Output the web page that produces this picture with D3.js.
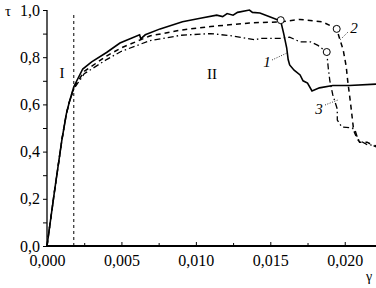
<!DOCTYPE html>
<html lang="en">
<head>
    <meta charset="UTF-8">
    <title>Shear stress vs strain</title>
    <style>
        body {
            margin: 0;
            background: #fff;
        }
        svg text {
            font-family: 'Liberation Serif', 'DejaVu Serif', serif;
            fill: #000;
        }
    </style>
</head>
<body>
    <div id="chart"></div>
    <script src="https://d3js.org/d3.v7.min.js"></script>
    <script>
        const width = 376;
        const height = 288;

        // curve 1 (solid), 2 (dashed), 3 (dash-dot): [gamma, tau]
        const curve1 = [
            [0, 0], [0.0005, 0.23], [0.001, 0.45], [0.0013, 0.56], [0.0015, 0.61],
            [0.0018, 0.675], [0.0024, 0.75], [0.003, 0.78], [0.004, 0.82], [0.0049, 0.86],
            [0.00622, 0.895], [0.0063, 0.878], [0.0066, 0.895], [0.0076, 0.92], [0.0091, 0.95],
            [0.0103, 0.965], [0.0114, 0.978], [0.0118, 0.972], [0.0121, 0.985], [0.0125, 0.978],
            [0.0128, 0.99], [0.0136, 1.0], [0.0138, 0.99], [0.0143, 0.987], [0.015, 0.97],
            [0.0157, 0.953], [0.0159, 0.9], [0.0161, 0.84], [0.0162, 0.79], [0.0163, 0.767],
            [0.0166, 0.745], [0.017, 0.725], [0.0172, 0.7], [0.0175, 0.69], [0.0178, 0.657],
            [0.0183, 0.67], [0.0192, 0.68], [0.0203, 0.68], [0.0221, 0.686]
        ];
        const curve2 = [
            [0, 0], [0.0005, 0.23], [0.001, 0.45], [0.0013, 0.56], [0.0015, 0.61],
            [0.0018, 0.67], [0.0025, 0.74], [0.004, 0.805], [0.005, 0.84], [0.0069, 0.89],
            [0.009, 0.915], [0.011, 0.93], [0.0136, 0.945], [0.0157, 0.95], [0.017, 0.96],
            [0.0185, 0.95], [0.01946, 0.92], [0.0197, 0.87], [0.0199, 0.83], [0.0201, 0.76],
            [0.0202, 0.7], [0.0204, 0.6], [0.0206, 0.49], [0.0208, 0.46], [0.021, 0.44],
            [0.0215, 0.44], [0.0221, 0.42]
        ];
        const curve3 = [
            [0, 0], [0.0005, 0.23], [0.001, 0.45], [0.0013, 0.56], [0.0015, 0.61],
            [0.0018, 0.665], [0.0025, 0.73], [0.004, 0.79], [0.005, 0.825], [0.0069, 0.87],
            [0.009, 0.893], [0.011, 0.9], [0.0125, 0.89], [0.014, 0.873], [0.0143, 0.88],
            [0.0157, 0.88], [0.0163, 0.885], [0.017, 0.865], [0.0177, 0.865], [0.0182, 0.85],
            [0.01879, 0.822], [0.0189, 0.75], [0.019, 0.7], [0.0192, 0.64], [0.0195, 0.58],
            [0.0195, 0.534], [0.0198, 0.504], [0.0205, 0.5], [0.0207, 0.49], [0.0209, 0.45],
            [0.0215, 0.43], [0.0221, 0.425]
        ];
        // failure points (open circles)
        const failPoints = [[0.0157, 0.957], [0.01946, 0.92], [0.01879, 0.822]];

        const xTicks = [0, 0.005, 0.010, 0.015, 0.020];
        const xMinorTicks = [0.0025, 0.0075, 0.0125, 0.0175];
        const yTicks = [0, 0.2, 0.4, 0.6, 0.8, 1.0];
        const yMinorTicks = [0.1, 0.3, 0.5, 0.7, 0.9];
        const boundaryGamma = 0.0018;

        const svg = d3.select("#chart")
            .append("svg")
            .attr("width", width)
            .attr("height", height);

        const x = d3.scaleLinear().domain([0, 0.0221]).range([47, 376]);
        const y = d3.scaleLinear().domain([0, 1.0]).range([246, 10]);

        const comma = d => d3.format(".3f")(d).replace(".", ",");
        const commaY = d => d3.format(".1f")(d).replace(".", ",");

        // axes
        const xAxis = svg.append("g")
            .attr("transform", `translate(0,${y(0)})`)
            .call(d3.axisBottom(x).tickValues(xTicks).tickSize(-4).tickPadding(9).tickFormat(comma));
        xAxis.append("g")
            .call(d3.axisBottom(x).tickValues(xMinorTicks).tickSize(-3).tickFormat(""));
        xAxis.selectAll(".domain").attr("stroke-width", 2);

        const yAxis = svg.append("g")
            .attr("transform", `translate(${x(0)},0)`)
            .call(d3.axisLeft(y).tickValues(yTicks).tickSize(4).tickPadding(3).tickFormat(commaY));
        yAxis.append("g")
            .call(d3.axisLeft(y).tickValues(yMinorTicks).tickSize(4).tickFormat(""));
        yAxis.selectAll(".domain").attr("stroke-width", 1.3);

        svg.selectAll(".tick text")
            .attr("font-size", 16)
            .attr("font-family", "'Liberation Serif', serif");
        svg.selectAll(".domain").each(function () {
            // drop the outer end ticks from the domain path
            const sel = d3.select(this);
            const isX = this.parentNode === xAxis.node();
            sel.attr("d", isX ? `M${x.range()[0]},0H${x.range()[1]}` : `M0,${y.range()[0]}V${y.range()[1]}`);
        });
        svg.selectAll("g g .domain").remove();

        // regime boundary
        svg.append("line")
            .attr("x1", x(boundaryGamma)).attr("x2", x(boundaryGamma))
            .attr("y1", 15).attr("y2", y(0))
            .attr("stroke", "#000")
            .attr("stroke-width", 1)
            .attr("stroke-dasharray", "3,3");

        const line = d3.line().x(d => x(d[0])).y(d => y(d[1]));

        svg.append("path").datum(curve3)
            .attr("d", line).attr("fill", "none").attr("stroke", "#000")
            .attr("stroke-width", 1.3).attr("stroke-dasharray", "6,3,1.5,3");
        svg.append("path").datum(curve2)
            .attr("d", line).attr("fill", "none").attr("stroke", "#000")
            .attr("stroke-width", 1.5).attr("stroke-dasharray", "5,4");
        svg.append("path").datum(curve1)
            .attr("d", line).attr("fill", "none").attr("stroke", "#000")
            .attr("stroke-width", 1.6);

        svg.selectAll("circle.fail")
            .data(failPoints)
            .enter().append("circle")
            .attr("class", "fail")
            .attr("cx", d => x(d[0])).attr("cy", d => y(d[1]))
            .attr("r", 3.5)
            .attr("fill", "#fff").attr("stroke", "#000").attr("stroke-width", 1);

        // curve labels with leader lines
        const leaders = [[272, 60, 287, 53], [348, 32, 340, 40], [325, 105, 338, 100]];
        svg.selectAll("line.leader")
            .data(leaders)
            .enter().append("line")
            .attr("x1", d => d[0]).attr("y1", d => d[1])
            .attr("x2", d => d[2]).attr("y2", d => d[3])
            .attr("stroke", "#000").attr("stroke-width", 0.8)
            .attr("stroke-dasharray", "1,1.5");

        const labels = [["1", 267, 67], ["2", 354, 33], ["3", 319, 114], ["I", 62, 78], ["II", 212, 79]];
        svg.selectAll("text.lbl")
            .data(labels)
            .enter().append("text")
            .attr("class", "lbl")
            .attr("x", d => d[1]).attr("y", d => d[2])
            .attr("text-anchor", "middle")
            .attr("font-size", 15)
            .attr("font-style", d => /\d/.test(d[0]) ? "italic" : "normal")
            .text(d => d[0]);

        svg.append("text").attr("x", 8).attr("y", 16)
            .attr("text-anchor", "middle").attr("font-size", 15).text("τ");
        svg.append("text").attr("x", 369).attr("y", 281)
            .attr("text-anchor", "middle").attr("font-size", 14).text("γ");
    </script>
</body>
</html>
